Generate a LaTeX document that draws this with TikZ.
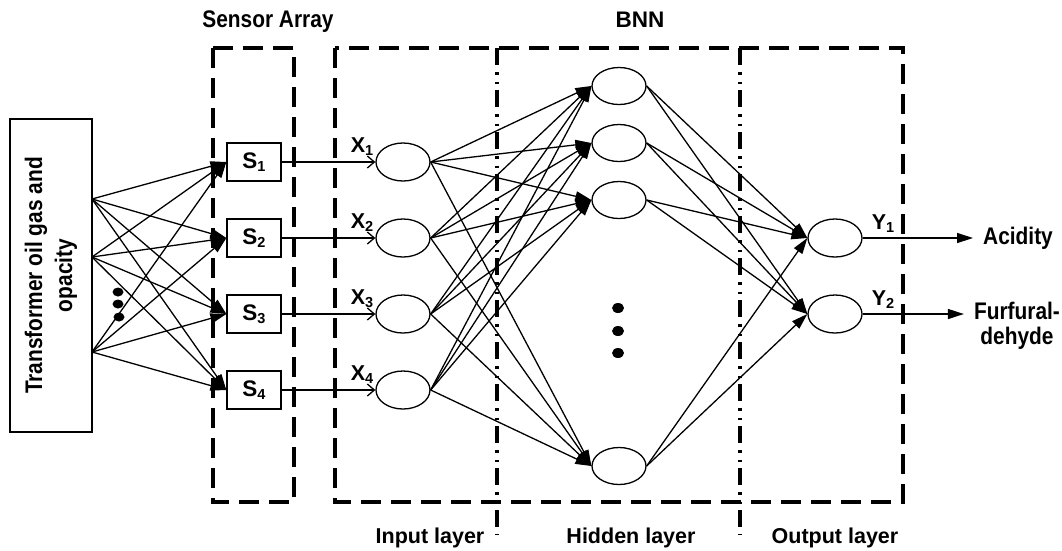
\documentclass[tikz,border=0pt]{standalone}
\usepackage{fontspec}
\setmainfont{Liberation Sans}
\newfontfamily\narrowfont{Liberation Sans}[FakeStretch=0.87]
\usetikzlibrary{arrows.meta,shapes.geometric}
\newcommand\mysub[1]{\raisebox{-3pt}{\fontsize{14.5}{14.5}\selectfont #1}}
\tikzset{
  conn/.style={line width=1.3pt},
  arr/.style={conn,-{Triangle[length=16pt,width=10pt]}},
  barb/.style={conn,-{Straight Barb[length=7pt,width=12pt]}},
  neuron/.style={ellipse,draw,line width=1.3pt,minimum width=54pt,minimum height=38pt,inner sep=0pt,fill=white},
  sensor/.style={rectangle,draw,line width=1.3pt,minimum width=54pt,minimum height=38pt,inner sep=0pt,fill=white,font=\bfseries\fontsize{22.5}{22.5}\selectfont},
  groupbox/.style={line width=3.4pt,dash pattern=on 20pt off 10pt},
  layersep/.style={line width=3.4pt,dash pattern=on 17pt off 7pt on 2.5pt off 7pt on 2.5pt off 6pt},
  lbl/.style={font=\bfseries\fontsize{21.5}{21.5}\selectfont,inner sep=0pt},
  nlbl/.style={font=\narrowfont\bfseries\fontsize{24}{25}\selectfont,inner sep=0pt,align=center},
  dotmark/.style={fill=black}
}
\begin{document}
\begin{tikzpicture}[x=1pt,y=-1pt]
\useasboundingbox (0,0) rectangle (1062,550);
% group boxes
\draw[groupbox] (213,48) rectangle (294,502);
\draw[groupbox] (335,48) rectangle (903,502);
\draw[layersep] (497,48) -- (497,535);
\draw[layersep] (740,48) -- (740,535);
% titles
\node[nlbl] (tsa) at (268,22) {Sensor Array};
\node[lbl,font=\bfseries\fontsize{22.5}{22.5}\selectfont] (tbnn) at (640,20) {BNN};
\node[lbl,anchor=base] (lin) at (430,543) {Input layer};
\node[lbl,anchor=base] (lhid) at (631,543) {Hidden layer};
\node[lbl,anchor=base] (lout) at (835,543) {Output layer};
% source box
\node[draw,line width=1.8pt,rotate=90,minimum width=313pt,minimum height=82pt,inner sep=0pt,
      font=\narrowfont\bfseries\fontsize{24}{30}\selectfont,align=center] (src) at (51,275.5)
      {Transformer oil gas and\\opacity};
\coordinate (p1) at (92,199);
\coordinate (p2) at (92,257);
\coordinate (p3) at (92,352);
\fill[dotmark] (118,292) ellipse (5.5 and 4.5);
\fill[dotmark] (118,304) ellipse (5.5 and 4.5);
\fill[dotmark] (119,317) ellipse (5.5 and 4.5);
% sensors
\node[sensor] (S1) at (254,162) {S\mysub{1}};
\node[sensor] (S2) at (254,238) {S\mysub{2}};
\node[sensor] (S3) at (254,314) {S\mysub{3}};
\node[sensor] (S4) at (254,390) {S\mysub{4}};
% input neurons
\node[neuron] (x1) at (403,162) {};
\node[neuron] (x2) at (403,238) {};
\node[neuron] (x3) at (403,314) {};
\node[neuron] (x4) at (403,390) {};
\node[lbl,anchor=base] (lx1) at (362,152) {X\mysub{1}};
\node[lbl,anchor=base] (lx2) at (362,228) {X\mysub{2}};
\node[lbl,anchor=base] (lx3) at (362,304) {X\mysub{3}};
\node[lbl,anchor=base] (lx4) at (362,380) {X\mysub{4}};
% hidden neurons
\node[neuron,minimum height=37pt] (h1) at (619,86) {};
\node[neuron,minimum height=37pt] (h2) at (619,143) {};
\node[neuron,minimum height=37pt] (h3) at (619,200) {};
\node[neuron,minimum height=37pt] (h4) at (619,466) {};
\fill[dotmark] (618,308) ellipse (6 and 5);
\fill[dotmark] (618,331) ellipse (6 and 5);
\fill[dotmark] (618,353) ellipse (6 and 5);
% output neurons
\node[neuron] (y1) at (835,238) {};
\node[neuron] (y2) at (835,314) {};
\node[lbl,anchor=base] (ly1) at (883,229) {Y\mysub{1}};
\node[lbl,anchor=base] (ly2) at (883,305) {Y\mysub{2}};
% output texts
\node[nlbl,anchor=west] (acid) at (983,238) {Acidity};
\node[nlbl,anchor=north] (furf) at (1017,302) {Furfural-\\dehyde};
% connectors
\foreach \s in {p1,p2,p3}{
  \foreach \t in {S1,S2,S3,S4}{
    \draw[arr] (\s) -- (\t.west);
  }
}
\foreach \i in {1,2,3,4}{
  \draw[barb] (S\i.east) -- (x\i.west);
  \foreach \j in {1,2,3,4}{
    \draw[arr] (x\i.east) -- (h\j.west);
  }
}
\foreach \i in {1,2,3,4}{
  \foreach \j in {1,2}{
    \draw[arr] (h\i.east) -- (y\j.west);
  }
}
\draw[arr,shorten >=10pt] (y1.east) -- (acid.west);
\draw[arr] (y2.east) -- ([xshift=-10pt]y2.east -| furf.west);
\end{tikzpicture}
\end{document}
